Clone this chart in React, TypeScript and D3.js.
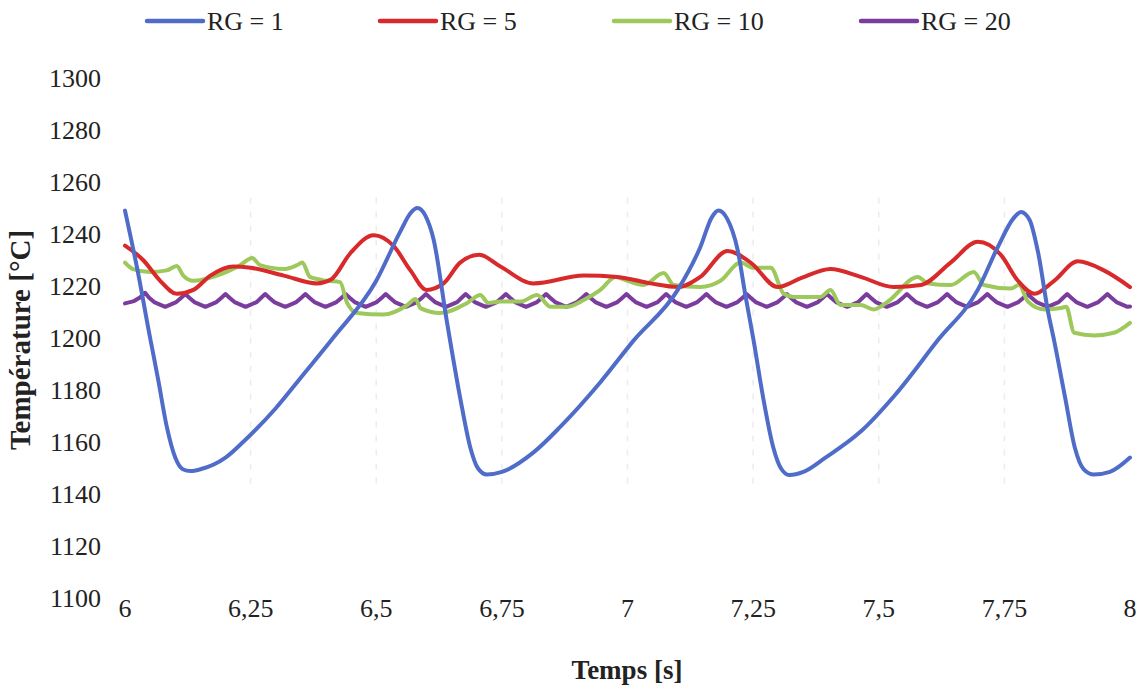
import React from "react";
import * as d3 from "d3";

type Pt = [number, number];

const xTicks = [6, 6.25, 6.5, 6.75, 7, 7.25, 7.5, 7.75, 8];
const xTickLabels = ["6", "6,25", "6,5", "6,75", "7", "7,25", "7,5", "7,75", "8"];
const yTicks = [1100, 1120, 1140, 1160, 1180, 1200, 1220, 1240, 1260, 1280, 1300];
const gridTicks = [6.25, 6.5, 6.75, 7, 7.25, 7.5, 7.75];

const seriesNames = ["RG = 1", "RG = 5", "RG = 10", "RG = 20"];
const seriesColors = ["#4f6cc9", "#d8292b", "#9dc95c", "#7a3d9e"];

const rg1: Pt[] = [
  [6.0, 1249], [6.025, 1226], [6.05, 1200], [6.066, 1184], [6.083, 1166], [6.1, 1154],
  [6.115, 1149.5], [6.13, 1148.8], [6.15, 1149.5], [6.2, 1154], [6.235, 1160], [6.3, 1173],
  [6.355, 1186], [6.414, 1200], [6.5, 1222], [6.548, 1241], [6.568, 1248], [6.582, 1250],
  [6.598, 1247], [6.614, 1238], [6.64, 1207], [6.667, 1177], [6.687, 1158], [6.702, 1150],
  [6.72, 1147.5], [6.75, 1148.5], [6.813, 1156], [6.867, 1166], [6.946, 1183], [7.012, 1199],
  [7.1, 1218.5], [7.145, 1235], [7.168, 1246.5], [7.181, 1249], [7.198, 1246], [7.219, 1234],
  [7.235, 1216], [7.251, 1199], [7.27, 1177], [7.29, 1158], [7.305, 1150], [7.322, 1147.3],
  [7.35, 1148.5], [7.394, 1154], [7.464, 1164], [7.532, 1178], [7.617, 1199], [7.697, 1218.5],
  [7.737, 1235], [7.768, 1246], [7.783, 1248.5], [7.8, 1245.5], [7.817, 1233], [7.837, 1210],
  [7.849, 1199], [7.871, 1177], [7.89, 1158], [7.908, 1149.5], [7.928, 1147.5], [7.96, 1148.5],
  [8.0, 1154],
];

const rg5: Pt[] = [
  [6.0, 1235.5], [6.036, 1230], [6.07, 1222], [6.103, 1217], [6.136, 1218.5], [6.17, 1224],
  [6.216, 1227.5], [6.25, 1227], [6.316, 1224], [6.382, 1221], [6.41, 1222.5], [6.448, 1232.5],
  [6.495, 1239.5], [6.534, 1235.5], [6.568, 1226], [6.6, 1218.5], [6.634, 1221], [6.667, 1229],
  [6.705, 1232], [6.747, 1227.5], [6.813, 1221], [6.913, 1224], [6.98, 1223.5], [7.046, 1221],
  [7.1, 1219.6], [7.145, 1223.5], [7.199, 1233.5], [7.245, 1229], [7.299, 1219.6], [7.345, 1223],
  [7.404, 1226.5], [7.464, 1223.5], [7.53, 1219.6], [7.584, 1220.4], [7.643, 1229], [7.697, 1237],
  [7.743, 1232], [7.777, 1222], [7.81, 1217], [7.849, 1222], [7.896, 1229.5], [7.948, 1226],
  [8.0, 1219.6],
];

const rg10: Pt[] = [
  [6.0, 1229], [6.016, 1226.5], [6.05, 1225.4], [6.083, 1226], [6.103, 1227.7], [6.116, 1224],
  [6.136, 1222], [6.183, 1224], [6.229, 1228], [6.253, 1230.8], [6.269, 1228], [6.316, 1226.5],
  [6.342, 1228], [6.353, 1229], [6.368, 1223.5], [6.402, 1222], [6.428, 1221.5], [6.442, 1213.5],
  [6.462, 1209.6], [6.514, 1209], [6.562, 1212.7], [6.578, 1215], [6.588, 1211.5], [6.627, 1209.6],
  [6.681, 1213.5], [6.707, 1216.5], [6.723, 1213.5], [6.747, 1214], [6.787, 1214], [6.82, 1216.5],
  [6.847, 1212], [6.88, 1212], [6.913, 1214.6], [6.946, 1218.5], [6.976, 1223.5], [7.0, 1222],
  [7.032, 1220.4], [7.072, 1225], [7.092, 1220.4], [7.145, 1219.6], [7.185, 1222], [7.225, 1229],
  [7.251, 1227], [7.285, 1227], [7.311, 1217], [7.331, 1215.8], [7.384, 1215.8], [7.404, 1218.5],
  [7.424, 1212.7], [7.464, 1212.7], [7.49, 1211], [7.518, 1214], [7.578, 1223.5], [7.598, 1221],
  [7.643, 1220.4], [7.689, 1225.4], [7.709, 1220.4], [7.763, 1219], [7.779, 1220.4], [7.797, 1214],
  [7.829, 1211], [7.863, 1211.5], [7.873, 1212], [7.889, 1202], [7.929, 1201], [7.968, 1202],
  [8.0, 1205.8],
];

const rg20: Pt[] = [
  [6.0, 1213.3], [6.018, 1214.2], [6.029, 1215.5], [6.04, 1217.4],
  [6.048, 1215.5], [6.058, 1213.8], [6.08, 1212], [6.102, 1213.8], [6.112, 1215.5],
  [6.12, 1216.9], [6.128, 1215.5], [6.138, 1213.8], [6.16, 1212], [6.182, 1213.8], [6.192, 1215.5],
  [6.2, 1216.9], [6.208, 1215.5], [6.218, 1213.8], [6.24, 1212], [6.262, 1213.8], [6.271, 1215.5],
  [6.279, 1216.9], [6.287, 1215.5], [6.297, 1213.8], [6.319, 1212], [6.341, 1213.8], [6.351, 1215.5],
  [6.359, 1216.9], [6.367, 1215.5], [6.377, 1213.8], [6.399, 1212], [6.421, 1213.8], [6.431, 1215.5],
  [6.439, 1216.9], [6.447, 1215.5], [6.457, 1213.8], [6.479, 1212], [6.501, 1213.8], [6.511, 1215.5],
  [6.519, 1216.9], [6.527, 1215.5], [6.537, 1213.8], [6.559, 1212], [6.581, 1213.8], [6.591, 1215.5],
  [6.599, 1216.9], [6.607, 1215.5], [6.617, 1213.8], [6.639, 1212], [6.661, 1213.8], [6.67, 1215.5],
  [6.678, 1216.9], [6.686, 1215.5], [6.696, 1213.8], [6.718, 1212], [6.74, 1213.8], [6.75, 1215.5],
  [6.758, 1216.9], [6.766, 1215.5], [6.776, 1213.8], [6.798, 1212], [6.82, 1213.8], [6.83, 1215.5],
  [6.838, 1216.9], [6.846, 1215.5], [6.856, 1213.8], [6.878, 1212], [6.9, 1213.8], [6.91, 1215.5],
  [6.918, 1216.9], [6.926, 1215.5], [6.936, 1213.8], [6.958, 1212], [6.98, 1213.8], [6.99, 1215.5],
  [6.998, 1216.9], [7.006, 1215.5], [7.016, 1213.8], [7.038, 1212], [7.06, 1213.8], [7.069, 1215.5],
  [7.077, 1216.9], [7.085, 1215.5], [7.095, 1213.8], [7.117, 1212], [7.139, 1213.8], [7.149, 1215.5],
  [7.157, 1216.9], [7.165, 1215.5], [7.175, 1213.8], [7.197, 1212], [7.219, 1213.8], [7.229, 1215.5],
  [7.237, 1216.9], [7.245, 1215.5], [7.255, 1213.8], [7.277, 1212], [7.299, 1213.8], [7.309, 1215.5],
  [7.317, 1216.9], [7.325, 1215.5], [7.335, 1213.8], [7.357, 1212], [7.379, 1213.8], [7.389, 1215.5],
  [7.397, 1216.9], [7.405, 1215.5], [7.415, 1213.8], [7.437, 1212], [7.459, 1213.8], [7.468, 1215.5],
  [7.476, 1216.9], [7.484, 1215.5], [7.494, 1213.8], [7.516, 1212], [7.538, 1213.8], [7.548, 1215.5],
  [7.556, 1216.9], [7.564, 1215.5], [7.574, 1213.8], [7.596, 1212], [7.618, 1213.8], [7.628, 1215.5],
  [7.636, 1216.9], [7.644, 1215.5], [7.654, 1213.8], [7.676, 1212], [7.698, 1213.8], [7.708, 1215.5],
  [7.716, 1216.9], [7.724, 1215.5], [7.734, 1213.8], [7.756, 1212], [7.778, 1213.8], [7.788, 1215.5],
  [7.796, 1216.9], [7.804, 1215.5], [7.814, 1213.8], [7.836, 1212], [7.858, 1213.8], [7.867, 1215.5],
  [7.875, 1216.9], [7.883, 1215.5], [7.893, 1213.8], [7.915, 1212], [7.937, 1213.8], [7.947, 1215.5],
  [7.955, 1216.9], [7.963, 1215.5], [7.973, 1213.8], [7.995, 1212], [8.0, 1212.1],
];

const seriesData: Pt[][] = [rg1, rg5, rg10, rg20];

const W = 1140;
const H = 690;
const FONT = "'Liberation Serif', 'Times New Roman', serif";

export default function App() {
  const x = d3.scaleLinear().domain([6, 8]).range([125, 1130]);
  const y = d3.scaleLinear().domain([1100, 1300]).range([598, 78]);
  const seriesCurves = [d3.curveMonotoneX, d3.curveMonotoneX, d3.curveMonotoneX, d3.curveLinear];

  const legendX = [147, 380, 614, 861];
  const drawOrder = [3, 2, 1, 0];

  return (
    <svg
      width={W}
      height={H}
      viewBox={`0 0 ${W} ${H}`}
      style={{ position: "absolute", left: 0, top: 0, background: "#fff" }}
    >
      <rect x={0} y={0} width={W} height={H} fill="#fff" />
      {gridTicks.map((t) => (
        <line
          key={`g${t}`}
          x1={x(t)}
          x2={x(t)}
          y1={y(1254)}
          y2={y(1142)}
          stroke="#ececec"
          strokeWidth={1.5}
          strokeDasharray="6 8"
        />
      ))}
      {yTicks.map((v) => (
        <text
          key={`y${v}`}
          x={101}
          y={y(v) + 8.5}
          textAnchor="end"
          fontFamily={FONT}
          fontSize={26}
          fill="#222"
        >
          {v}
        </text>
      ))}
      {xTicks.map((t, i) => (
        <text
          key={`x${t}`}
          x={x(t)}
          y={617}
          textAnchor="middle"
          fontFamily={FONT}
          fontSize={26}
          fill="#222"
        >
          {xTickLabels[i]}
        </text>
      ))}
      <text
        transform={`translate(30, 340) rotate(-90)`}
        textAnchor="middle"
        fontFamily={FONT}
        fontSize={29}
        fontWeight="bold"
        fill="#222"
      >
        Température [°C]
      </text>
      <text
        x={627}
        y={679}
        textAnchor="middle"
        fontFamily={FONT}
        fontSize={27}
        fontWeight="bold"
        fill="#222"
      >
        Temps [s]
      </text>
      {drawOrder.map((i) => {
        const line = d3
          .line<Pt>()
          .x((d) => x(d[0]))
          .y((d) => y(d[1]))
          .curve(seriesCurves[i]);
        return (
          <path
            key={`s${i}`}
            d={line(seriesData[i]) || ""}
            fill="none"
            stroke={seriesColors[i]}
            strokeWidth={4}
            strokeLinejoin="round"
            strokeLinecap="round"
          />
        );
      })}
      {seriesNames.map((n, i) => (
        <g key={`l${i}`}>
          <line
            x1={legendX[i]}
            x2={legendX[i] + 56}
            y1={21}
            y2={21}
            stroke={seriesColors[i]}
            strokeWidth={4.5}
            strokeLinecap="round"
          />
          <text
            x={legendX[i] + 60}
            y={30}
            fontFamily={FONT}
            fontSize={26}
            fill="#222"
          >
            {n}
          </text>
        </g>
      ))}
    </svg>
  );
}
